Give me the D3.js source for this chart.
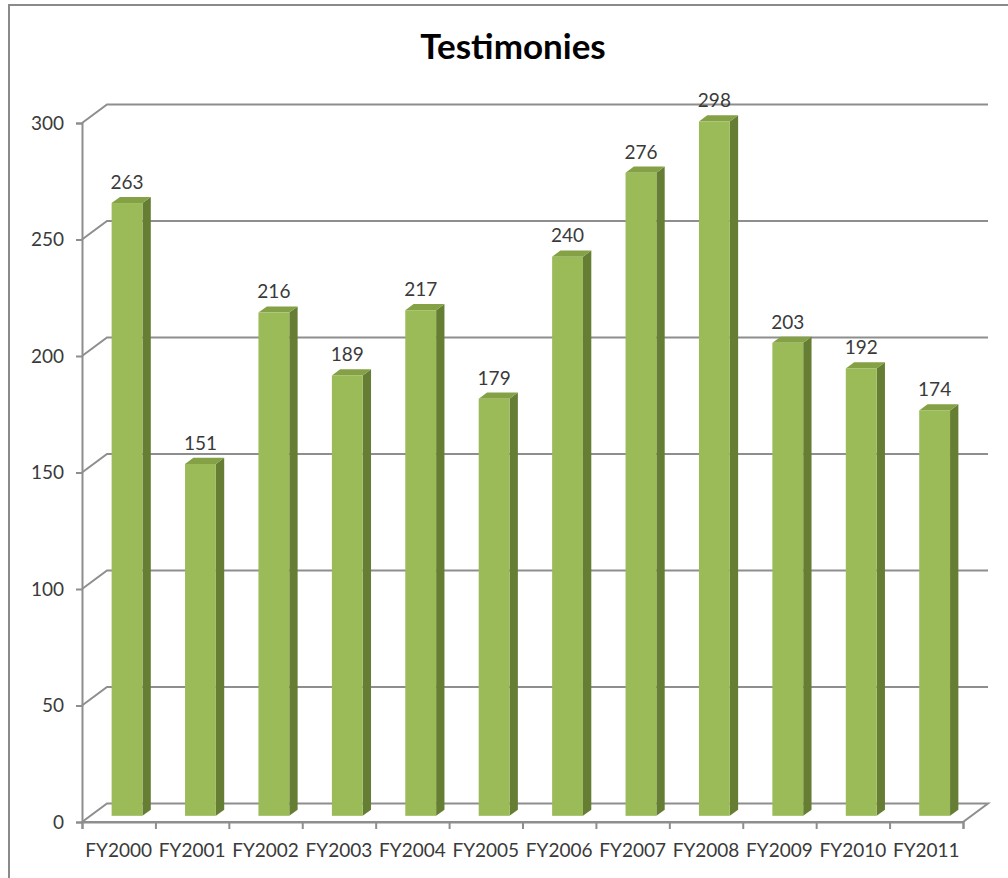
<!DOCTYPE html>
<html>
<head>
<meta charset="utf-8">
<script src="https://cdn.jsdelivr.net/npm/d3@7"></script>
<style>
html,body{margin:0;padding:0;background:#fff;}
svg{display:block;}
</style>
</head>
<body>
<svg id="chart" width="1008" height="878"></svg>
<script>
const title = "Testimonies";
const categories = ["FY2000","FY2001","FY2002","FY2003","FY2004","FY2005","FY2006","FY2007","FY2008","FY2009","FY2010","FY2011"];
const values = [263,151,216,189,217,179,240,276,298,203,192,174];
const yTicks = [0,50,100,150,200,250,300];

const svg = d3.select("#chart");
const W = 1008, H = 878;
const fontFam = "Lato, 'Open Sans', sans-serif";
const gridCol = "#8e8e8e";

// outer chart border (only left/top visible)
svg.append("path").attr("d", `M9,${H} L9,5 L${W},5`).attr("fill","none").attr("stroke","#8a8a8a").attr("stroke-width",2);

const x0 = 82, x1 = 963, yBase = 822, yTop = 123;
const DX = 25, DY = -18.5;
const x = d3.scaleBand().domain(categories).range([x0, x1]).paddingInner(0).paddingOuter(0);
const xIdx = d3.scaleLinear().domain([0, categories.length]).range([x0, x1]);
const y = d3.scaleLinear().domain([0, 300]).range([yBase, yTop]);

const g = svg.append("g");

// back wall gridlines + left wall diagonals
yTicks.forEach(v => {
  const yy = y(v);
  if (v > 0) {
    g.append("path")
      .attr("d", `M${x0},${yy} L${x0+DX},${yy+DY} L${x1+DX},${yy+DY}`)
      .attr("fill","none").attr("stroke",gridCol).attr("stroke-width",2);
  }
});
// floor
g.append("path")
  .attr("d", `M${x0},${yBase} L${x0+DX},${yBase+DY} L${x1+DX},${yBase+DY} L${x1},${yBase} Z`)
  .attr("fill","none").attr("stroke",gridCol).attr("stroke-width",2);

// y axis
const yAxis = d3.axisLeft(y).tickValues(yTicks).tickSize(6).tickPadding(12);
const ya = svg.append("g").attr("transform", `translate(${x0},0)`).call(yAxis);
ya.select(".domain").attr("stroke", gridCol).attr("stroke-width",2);
ya.selectAll(".tick line").attr("stroke", gridCol).attr("stroke-width",2);
ya.selectAll(".tick text").attr("font-family", fontFam).attr("font-size", 19).attr("fill","#3a3a3a");

// x axis
const xAxis = d3.axisBottom(xIdx).tickValues(d3.range(categories.length+1)).tickSize(7).tickFormat("");
const xa = svg.append("g").attr("transform", `translate(0,${yBase})`).call(xAxis);
xa.select(".domain").attr("stroke", gridCol).attr("stroke-width",2);
xa.selectAll(".tick line").attr("stroke", gridCol).attr("stroke-width",2);

svg.append("g").selectAll("text").data(categories).join("text")
  .attr("x", d => x(d) + x.bandwidth()/2)
  .attr("y", 857)
  .attr("text-anchor","middle")
  .attr("font-family", fontFam).attr("font-size", 19).attr("fill","#3a3a3a")
  .text(d => d);

// bars (3D columns)
const f1 = 1/3, f2 = 2/3;
const bw = x.bandwidth() * 0.42;
const bars = svg.append("g");
categories.forEach((c, i) => {
  const v = values[i];
  const cx = x(c) + x.bandwidth()/2;
  const lx = cx - bw/2 + DX*f1, rx = cx + bw/2 + DX*f1;
  const by = y(0) + DY*f1, ty = y(v) + DY*f1;
  const ddx = DX*(f2-f1), ddy = DY*(f2-f1);
  // side
  bars.append("path")
    .attr("d", `M${rx},${by} L${rx},${ty} L${rx+ddx},${ty+ddy} L${rx+ddx},${by+ddy} Z`)
    .attr("fill", "#657e33");
  // top
  bars.append("path")
    .attr("d", `M${lx},${ty} L${lx+ddx},${ty+ddy} L${rx+ddx},${ty+ddy} L${rx},${ty} Z`)
    .attr("fill", "#84a146");
  // front
  bars.append("rect")
    .attr("x", lx).attr("y", ty).attr("width", rx-lx).attr("height", by-ty)
    .attr("fill", "#9bbb59");
  // label
  bars.append("text")
    .attr("x", cx + DX*f1)
    .attr("y", ty + ddy - 8)
    .attr("text-anchor","middle")
    .attr("font-family", fontFam).attr("font-size", 19).attr("fill","#3a3a3a")
    .text(v);
});

// title
svg.append("text")
  .attr("x", 513).attr("y", 59)
  .attr("text-anchor","middle")
  .attr("font-family", fontFam).attr("font-weight","bold").attr("font-size", 35).attr("fill","#000")
  .text(title);
</script>
</body>
</html>
